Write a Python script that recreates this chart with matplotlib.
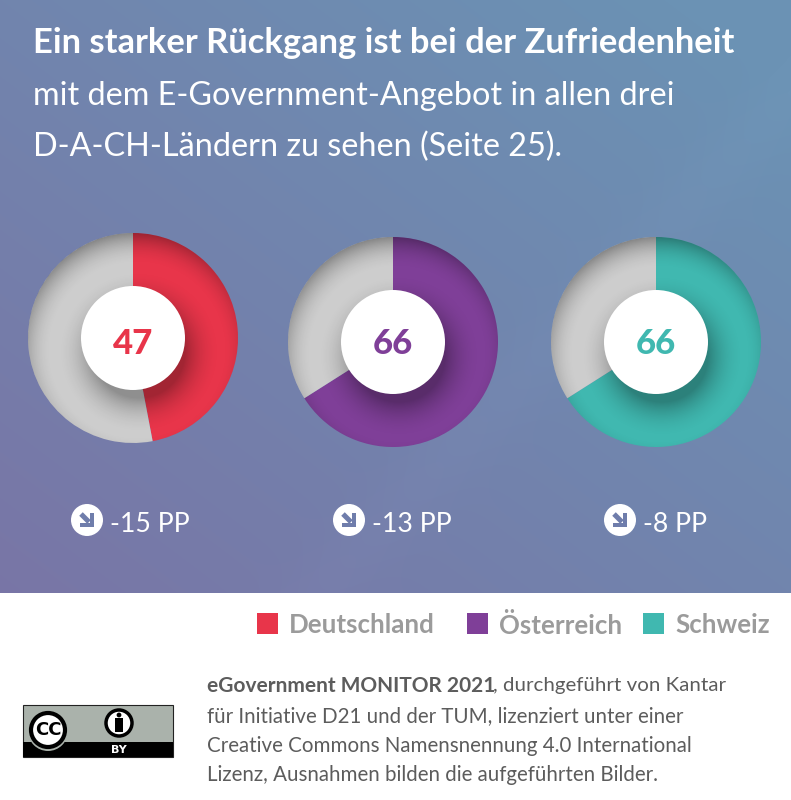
import numpy as np
import matplotlib
matplotlib.use("Agg")
import matplotlib.pyplot as plt
from matplotlib.patches import Circle, Rectangle, Polygon

# chart values
countries = ["Deutschland", "Österreich", "Schweiz"]
satisfaction = [47, 66, 66]
changes = ["-15 PP", "-13 PP", "-8 PP"]
colors = ["#e8354a", "#7f3f98", "#40b8b0"]

W, H = 791, 800
FONT = "Lato"
plt.rcParams["font.family"] = [FONT, "DejaVu Sans"]

fig = plt.figure(figsize=(W / 100, H / 100), dpi=100)
ax = fig.add_axes([0, 0, 1, 1])


def Y(py):
    # pixel row in the reference -> axes y
    return H - py


# background gradient, purple bottom left to blue top right
yy, xx = np.mgrid[0:594, 0:W]
t = np.clip((xx / W + (594 - yy) / 594) / 2 + 0.08, 0, 1)
c0 = np.array([122, 115, 165]) / 255
c1 = np.array([107, 146, 180]) / 255
bg = c0 + (c1 - c0) * t[..., None]
# faint diagonal streak
streak = np.exp(-(((xx - (W - yy * 0.95)) - 90) / 45.0) ** 2) * 0.008
bg = np.clip(bg + streak[..., None], 0, 1)
ax.imshow(bg, extent=[0, W, Y(594), Y(0)], origin="upper", aspect="auto", zorder=0)

# headline
ax.text(33, Y(43), "Ein starker Rückgang ist bei der Zufriedenheit", color="white",
        fontsize=24.85, fontweight="bold", va="center", ha="left")
ax.text(33, Y(96), "mit dem E-Government-Angebot in allen drei", color="white",
        fontsize=23.3, va="center", ha="left")
ax.text(33, Y(147), "D-A-CH-Ländern zu sehen (Seite 25).", color="white",
        fontsize=23.3, va="center", ha="left")

centers = [(133, 338), (393, 342), (656, 342)]
R, r = 105, 52


def shadow_image(cx, cy):
    # inner shadow on the ring + drop shadow of the white disc
    size = 2 * R + 4
    x0, y0 = cx - size / 2, cy - size / 2
    py, px = np.mgrid[0:size, 0:size]
    px = px + x0 + 0.5
    py = py + y0 + 0.5
    d_in = np.hypot(px - cx - 4, py - cy - 12)
    a_in = np.clip((d_in - (R - 20)) / 34, 0, 1) ** 2 * 0.38
    d_disc = np.hypot(px - cx - 6, py - cy - 14)
    a_disc = np.clip(1 - (d_disc - r + 6) / 36, 0, 1) ** 2 * 0.3
    alpha = 1 - (1 - a_in) * (1 - a_disc)
    img = np.zeros((size, size, 4))
    img[..., 3] = alpha
    return img, [x0, x0 + size, Y(y0 + size), Y(y0)]


for (cx, cy), val, col, chg in zip(centers, satisfaction, colors, changes):
    ax.pie([val, 100 - val], colors=[col, "#cdcdcd"], startangle=90, counterclock=False,
           center=(cx, Y(cy)), radius=R, frame=True, wedgeprops={"linewidth": 0})
    img, ext = shadow_image(cx, cy)
    im = ax.imshow(img, extent=ext, origin="upper", aspect="auto", zorder=3)
    im.set_clip_path(Circle((cx, Y(cy)), R, transform=ax.transData))
    ax.add_patch(Circle((cx, Y(cy)), r, fc="white", ec="none", zorder=4))
    ax.text(cx, Y(344), str(val), color=col, fontsize=25, fontweight="black",
            ha="center", va="center", zorder=5)

# change labels with arrow icons
icon_x = [87, 349, 620]
icon_col = "#6f7dab"
for ix, chg in zip(icon_x, changes):
    ax.add_patch(Circle((ix, Y(520)), 16, fc="white", ec="none", zorder=4))
    # corner arrow pointing down right
    ax.plot([ix - 6, ix + 2], [Y(514), Y(522)], color=icon_col, lw=3.6, solid_capstyle="butt", zorder=5)
    ax.add_patch(Polygon([(ix + 7, Y(513)), (ix + 7, Y(527)), (ix - 7, Y(527)), (ix - 7, Y(523)),
                          (ix + 3, Y(523)), (ix + 3, Y(513))], fc=icon_col, ec="none", zorder=5))
    ax.text(ix + 23, Y(524), chg, color="white", fontsize=19.2, va="center", ha="left", zorder=5)

# white footer
ax.add_patch(Rectangle((0, 0), W, Y(593), fc="white", ec="none", zorder=1))

# legend
leg_sq = [257, 467, 643]
for sx, name, col in zip(leg_sq, countries, colors):
    ax.add_patch(Rectangle((sx, Y(634)), 21, 21, fc=col, ec="none", zorder=2))
    ax.text(sx + 32, Y(625), name, color="#9b9b9b", fontsize=18.65, fontweight="bold",
            va="center", ha="left", zorder=2)

# CC BY badge
ax.add_patch(Rectangle((23, Y(757)), 150, 52, fc="#aab2ab", ec="#222222", lw=0.8, zorder=2))
ax.add_patch(Rectangle((23, Y(757)), 150, 15, fc="black", ec="none", zorder=3))
ax.add_patch(Circle((48, Y(731)), 20, fc="#aab2ab", ec="none", zorder=3))
ax.add_patch(Circle((48, Y(730)), 17, fc="white", ec="black", lw=3, zorder=4))
ax.text(48, Y(730), "CC", color="black", fontsize=13, fontweight="bold", ha="center",
        va="center", family="DejaVu Sans", zorder=5)
ax.add_patch(Circle((119, Y(723)), 13, fc="white", ec="black", lw=2.5, zorder=4))
ax.add_patch(Circle((119, Y(715)), 2.4, fc="black", ec="none", zorder=5))
ax.add_patch(Rectangle((115, Y(732)), 8, 14, fc="black", ec="none", zorder=5))
ax.text(119, Y(750), "BY", color="white", fontsize=8, fontweight="bold", ha="center",
        va="center", family="DejaVu Sans", zorder=5)

# source note
note_col = "#5c5c5c"
ax.text(207, Y(686), "eGovernment MONITOR 2021", color=note_col, fontsize=15,
        fontweight="bold", va="center", ha="left", zorder=2)
ax.text(493, Y(686), ", durchgeführt von Kantar", color=note_col, fontsize=14.75,
        va="center", ha="left", zorder=2)
note_lines = ["für Initiative D21 und der TUM, lizenziert unter einer",
              "Creative Commons Namensnennung 4.0 International",
              "Lizenz, Ausnahmen bilden die aufgeführten Bilder."]
for py, line in zip([716, 746, 775], note_lines):
    ax.text(207, Y(py), line, color=note_col, fontsize=14.8, va="center", ha="left", zorder=2)

ax.set_xlim(0, W)
ax.set_ylim(0, H)
ax.axis("off")
fig.savefig("out.png", dpi=100, facecolor="white")
